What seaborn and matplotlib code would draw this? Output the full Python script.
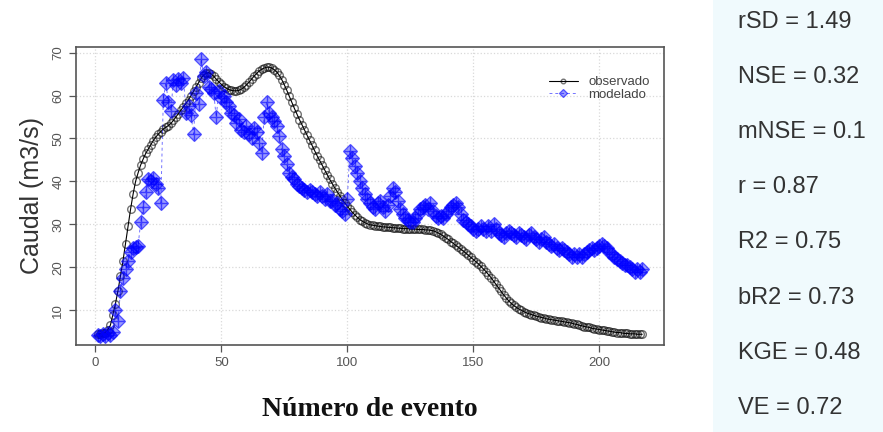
import numpy as np
import pandas as pd
import seaborn as sns
import matplotlib.pyplot as plt

# caudal observado (m3/s), eventos 1..217
observado = [
    4.5, 4.5, 4.6, 4.8, 5.5, 6.5, 9.0, 11.5, 14.5, 18.0,
    21.5, 25.5, 29.5, 33.5, 37.0, 40.0, 42.0, 43.8, 45.2, 46.5,
    47.5, 48.5, 49.5, 50.3, 51.0, 51.6, 52.2, 52.6, 53.0, 53.5,
    54.2, 55.0, 55.8, 56.6, 57.4, 58.2, 59.0, 60.0, 61.0, 62.0,
    63.0, 64.0, 64.8, 65.2, 65.3, 65.0, 64.5, 63.8, 63.2, 62.6,
    62.1, 61.7, 61.4, 61.2, 61.1, 61.1, 61.2, 61.5, 61.9, 62.5,
    63.1, 63.8, 64.5, 65.1, 65.7, 66.1, 66.4, 66.6, 66.6, 66.4,
    66.0, 65.5, 64.7, 63.7, 62.5, 61.2, 59.8, 58.4, 57.0, 55.7,
    54.4, 53.2, 52.0, 50.8, 49.6, 48.4, 47.2, 46.0, 44.9, 43.8,
    42.7, 41.6, 40.5, 39.5, 38.5, 37.6, 36.7, 35.8, 35.0, 34.2,
    33.5, 32.8, 32.2, 31.6, 31.1, 30.7, 30.4, 30.1, 29.9, 29.8,
    29.7, 29.6, 29.5, 29.4, 29.4, 29.3, 29.3, 29.2, 29.2, 29.1,
    29.1, 29.0, 29.0, 29.0, 28.9, 28.9, 28.9, 28.8, 28.8, 28.8,
    28.7, 28.7, 28.6, 28.5, 28.3, 28.0, 27.7, 27.3, 26.9, 26.5,
    26.0, 25.6, 25.1, 24.7, 24.2, 23.8, 23.3, 22.8, 22.3, 21.8,
    21.3, 20.8, 20.2, 19.6, 19.0, 18.3, 17.6, 16.8, 16.0, 15.2,
    14.4, 13.6, 12.9, 12.2, 11.6, 11.1, 10.7, 10.3, 10.0, 9.7,
    9.4, 9.2, 9.0, 8.8, 8.6, 8.5, 8.3, 8.2, 8.0, 7.9,
    7.8, 7.7, 7.6, 7.5, 7.4, 7.3, 7.2, 7.1, 7.0, 6.8,
    6.7, 6.5, 6.4, 6.2, 6.1, 6.0, 5.8, 5.7, 5.6, 5.5,
    5.4, 5.3, 5.2, 5.1, 5.0, 4.9, 4.8, 4.8, 4.7, 4.6,
    4.6, 4.5, 4.5, 4.5, 4.4, 4.4, 4.4,
]

# caudal modelado (m3/s)
modelado = [
    4.2, 4.0, 4.5, 4.1, 4.6, 4.3, 5.0, 10.0, 7.5, 14.5,
    17.5, 19.5, 21.5, 23.5, 24.5, 24.8, 25.0, 30.5, 34.0, 37.5,
    40.5, 40.0, 40.8, 39.5, 38.5, 35.0, 59.0, 63.0, 58.5, 56.5,
    63.5, 62.5, 63.8, 63.0, 64.0, 56.0, 57.5, 55.5, 51.0, 60.5,
    58.0, 68.5, 64.5, 65.5, 62.0, 61.5, 60.5, 55.0, 61.0, 59.5,
    60.0, 58.5, 57.5, 56.0, 55.5, 53.5, 54.5, 52.0, 51.5, 53.0,
    51.0, 50.0, 52.5, 51.5, 49.0, 46.5, 55.0, 58.5, 56.0, 55.0,
    54.0, 53.0, 50.5, 47.5, 46.0, 44.0, 42.0, 41.0, 40.5, 39.5,
    39.0, 38.5, 38.0, 37.5, 38.0, 37.5, 37.0, 36.5, 37.5, 36.5,
    36.0, 37.0, 35.5, 35.5, 34.5, 35.0, 33.5, 33.0, 32.5, 36.0,
    47.0, 45.5, 43.5, 42.0, 40.0, 38.5, 37.0, 36.0, 35.0, 34.0,
    33.5, 35.0, 35.5, 34.0, 33.0, 34.5, 36.5, 38.5, 37.5, 35.5,
    33.5, 32.5, 31.5, 31.0, 30.5, 30.5, 31.5, 32.5, 33.5, 34.0,
    34.5, 33.5, 35.0, 33.0, 32.0, 31.5, 32.0, 31.5, 32.5, 33.0,
    34.0, 34.5, 35.0, 34.0, 32.5, 31.0, 30.5, 30.0, 29.5, 29.0,
    28.5, 29.0, 29.5, 29.0, 28.5, 29.5, 28.5, 30.0, 29.0, 28.0,
    27.5, 27.0, 28.0, 28.5, 28.0, 27.5, 27.0, 28.0, 27.5, 27.0,
    26.5, 27.5, 28.0, 27.0, 26.5, 26.0, 26.5, 27.0, 26.0, 25.5,
    25.0, 25.5, 24.5, 24.0, 24.5, 24.0, 23.5, 23.0, 22.5, 23.0,
    22.5, 23.0, 22.5, 23.0, 23.5, 24.0, 24.5, 24.0, 24.5, 25.0,
    25.5, 25.0, 24.5, 23.5, 23.0, 22.5, 22.0, 21.5, 21.0, 20.5,
    20.5, 20.0, 19.5, 19.0, 19.5, 19.0, 19.5,
]

etiquetas = ["rSD = 1.49", "NSE = 0.32", "mNSE = 0.1", "r = 0.87",
             "R2 = 0.75", "bR2 = 0.73", "KGE = 0.48", "VE = 0.72"]

evento = np.arange(1, len(observado) + 1)
df = pd.DataFrame({"evento": evento, "observado": observado, "modelado": modelado})

sns.set_style("white")
plt.rcParams["font.family"] = ["Liberation Sans", "DejaVu Sans"]

fig = plt.figure(figsize=(8.83, 4.32), dpi=100)
# panel de estadisticos a la derecha
fig.patches.append(plt.Rectangle((713 / 883, 0), 1, 1, transform=fig.transFigure,
                                 facecolor="#f0fafd", edgecolor="none", zorder=0))

ax = fig.add_axes([76 / 883, 1 - 345 / 432, 588 / 883, 298 / 432])
ax.set_facecolor("white")

sns.lineplot(data=df, x="evento", y="observado", ax=ax, color="black", lw=0.8,
             marker="o", markersize=5.5, markerfacecolor="none", markeredgecolor=(0, 0, 0, 0.55),
             markeredgewidth=1.0, label="observado")
sns.lineplot(data=df, x="evento", y="modelado", ax=ax, color=(0, 0, 1, 0.55), lw=0.7,
             linestyle=(0, (3, 3)), marker="D", markersize=7, markerfacecolor=(0, 0, 1, 0.4),
             markeredgecolor=(0, 0, 1, 0.6), markeredgewidth=0.9, label="modelado")
sns.scatterplot(data=df, x="evento", y="modelado", ax=ax, marker="+", s=70,
                color=(0, 0, 1, 0.6), linewidth=1.0, legend=False)

ax.set_xlim(-7.64, 225.64)
ax.set_ylim(1.9, 71.3)
ax.set_xticks([0, 50, 100, 150, 200])
ax.set_yticks([10, 20, 30, 40, 50, 60, 70])
ax.grid(True, color="#d9d9d9", linestyle=":", linewidth=0.9)
ax.tick_params(axis="both", direction="out", length=5, width=0.9, colors="#555555",
               labelsize=9.5, labelcolor="#555555", left=True, bottom=True)
for lab in ax.get_yticklabels():
    lab.set_rotation(90)
    lab.set_va("center")
for sp in ax.spines.values():
    sp.set_color("#555555")
    sp.set_linewidth(1.2)

ax.set_xlabel("")
ax.set_ylabel("Caudal (m3/s)", fontsize=18, color="#333333", labelpad=6)

leg = ax.legend(loc="upper right", bbox_to_anchor=(0.985, 0.92), frameon=False,
                fontsize=9.5, handlelength=2.2, labelspacing=0.0, borderaxespad=0,
                handletextpad=0.8, markerscale=0.6)
for t in leg.get_texts():
    t.set_color("#444444")

fig.text(370 / 883, 1 - 409 / 432, "Número de evento", fontsize=20, fontweight="bold",
         family=["Liberation Serif", "DejaVu Serif"], ha="center", va="center", color="#111111")

for i, txt in enumerate(etiquetas):
    fig.text(738 / 883, 1 - (22 + 55.1 * i) / 432, txt, fontsize=17,
             color="#333333", ha="left", va="center")

fig.savefig("out.png", dpi=100)
